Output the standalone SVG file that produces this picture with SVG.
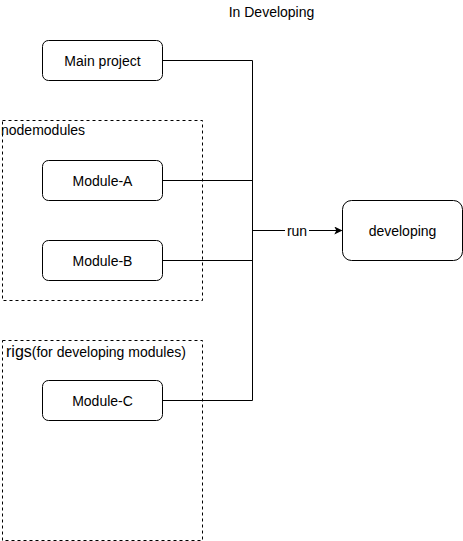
<svg xmlns="http://www.w3.org/2000/svg" width="463" height="541" viewBox="0 0 463 541">
<defs>
<style>
.node{fill:#fff;stroke:#000;stroke-width:1}
.grp{fill:none;stroke:#000;stroke-width:1;stroke-dasharray:3 3}
.t{font-family:"Liberation Sans",Arial,sans-serif;font-size:14px;fill:#000}
.c{text-anchor:middle;dominant-baseline:central}
.edge{fill:none;stroke:#000;stroke-width:1}
</style>
<marker id="arr" viewBox="0 0 10 10" refX="9" refY="5" markerWidth="8" markerHeight="8" markerUnits="userSpaceOnUse" orient="auto">
<path d="M0,0 L10,5 L0,10 L2.5,5 Z" fill="#000"/>
</marker>
</defs>
<rect width="463" height="541" fill="#fff"/>
<text class="t c" x="271.5" y="12" font-size="12px">In Developing</text>
<g id="nodemodules">
<rect class="grp" x="2.5" y="120.5" width="200" height="180"/>
<text class="t" x="1" y="135">nodemodules</text>
</g>
<g id="rigs">
<rect class="grp" x="2.5" y="340.5" width="200" height="200"/>
<text class="t" x="6" y="357"><tspan font-size="16px">rigs</tspan>(for developing modules)</text>
</g>
<g id="connectors">
<path class="edge" d="M162.5,60.5 H252.5 V400.5 H162.5"/>
<path class="edge" d="M162.5,180.5 H252.5"/>
<path class="edge" d="M162.5,260.5 H252.5"/>
<path class="edge" d="M252.5,230.5 H341.5" marker-end="url(#arr)"/>
<rect x="285" y="222" width="24" height="17" fill="#fff"/>
<text class="t c" x="297" y="231">run</text>
</g>
<g id="main-project">
<rect class="node" x="42.5" y="40.5" width="120" height="40" rx="6"/>
<text class="t c" x="102.5" y="61" font-size="13px">Main project</text>
</g>
<g id="module-a">
<rect class="node" x="42.5" y="160.5" width="120" height="40" rx="6"/>
<text class="t c" x="102.5" y="181">Module-A</text>
</g>
<g id="module-b">
<rect class="node" x="42.5" y="240.5" width="120" height="40" rx="6"/>
<text class="t c" x="102.5" y="261">Module-B</text>
</g>
<g id="module-c">
<rect class="node" x="42.5" y="380.5" width="120" height="40" rx="6"/>
<text class="t c" x="102.5" y="401">Module-C</text>
</g>
<g id="developing">
<rect class="node" x="342.5" y="200.5" width="120" height="60" rx="9"/>
<text class="t c" x="402.5" y="231">developing</text>
</g>
</svg>
